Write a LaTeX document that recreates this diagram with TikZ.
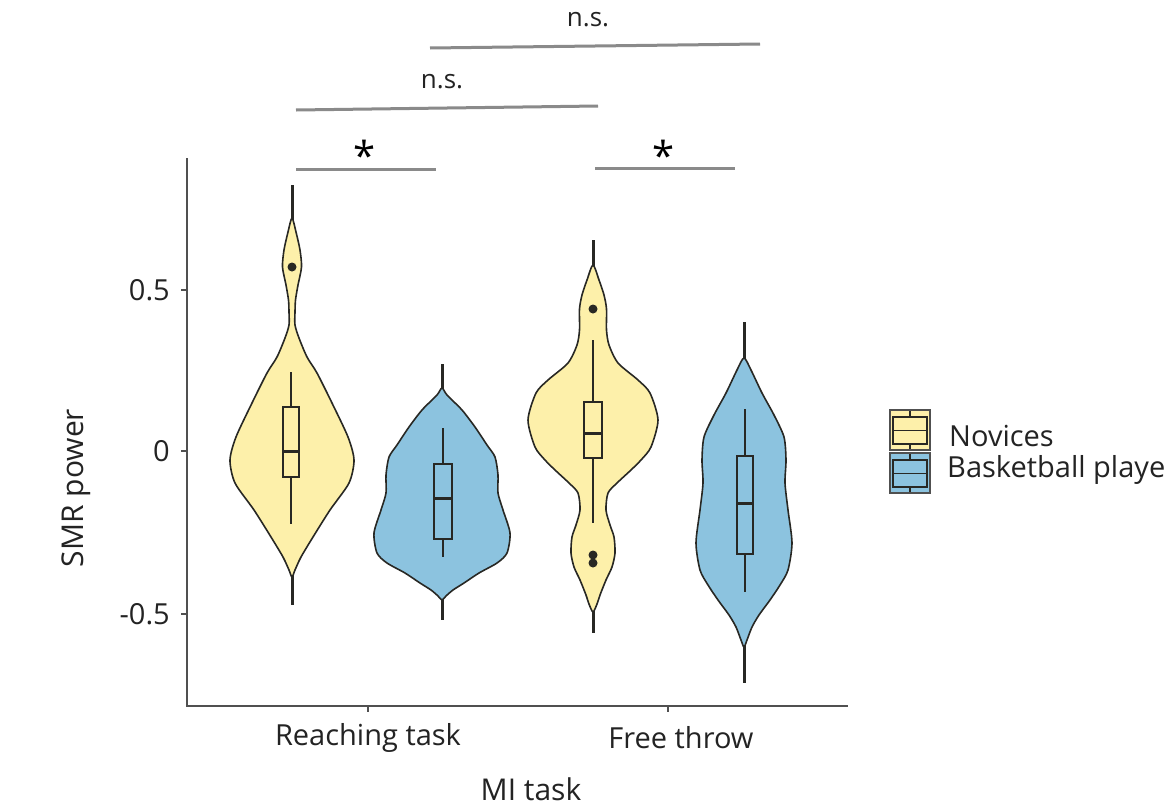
\documentclass[tikz,border=0pt]{standalone}
\usepackage{fontspec}
\setmainfont{Open Sans}
\definecolor{nov}{RGB}{253,240,170}
\definecolor{bas}{RGB}{140,195,223}
\definecolor{outl}{RGB}{40,40,36}
\definecolor{axisc}{RGB}{80,80,80}
\definecolor{barc}{RGB}{138,138,138}
\definecolor{txt}{RGB}{35,35,35}
\tikzset{
  violin/.style={draw=outl,line width=1.6pt,line join=round},
  vline/.style={draw=outl,line width=3pt},
  boxst/.style={draw=outl,line width=1.3pt},
  medst/.style={draw=outl,line width=3pt},
  whisk/.style={draw=outl,line width=1.3pt},
  sigbar/.style={draw=barc,line width=3pt},
  axisline/.style={draw=axisc,line width=1.6pt},
  ticklab/.style={text=txt,font=\fontsize{29}{32}\selectfont,inner sep=0pt},
  axtitle/.style={text=txt,font=\fontsize{30}{34}\selectfont,inner sep=0pt},
  nslab/.style={text=txt,font=\fontsize{26}{30}\selectfont,inner sep=0pt},
  starlab/.style={text=black,font=\fontsize{40}{40}\selectfont,inner sep=0pt},
}
\newcommand\violin[5]{%
  \gdef\vR{}\gdef\vL{}%
  \foreach \yy/\hh in {#5}{\xdef\vR{\vR(#1+\hh,\yy)}\xdef\vL{(#1-\hh,\yy)\vL}}%
  \edef\vtmp{\noexpand\draw[violin,fill=#2] plot[smooth cycle,tension=0.45] coordinates {(#1,#3)\vR(#1,#4)\vL};}%
  \vtmp}
\newcommand\boxp[7]{% cx, hw, q1(top), q3(bottom), median, wtop, wbot
  \draw[whisk] (#1,#6) -- (#1,#3);
  \draw[whisk] (#1,#4) -- (#1,#7);
  \draw[boxst] (#1-#2,#3) rectangle (#1+#2,#4);
  \draw[medst] (#1-#2,#5) -- (#1+#2,#5);
}
\begin{document}
\begin{tikzpicture}[x=1pt,y=-1pt]
\useasboundingbox (0,0) rectangle (1170,809);
\fill[white] (0,0) rectangle (1170,809);

% axes
\coordinate (ytop) at (187,158);
\coordinate (orig) at (187,706);
\coordinate (xend) at (848,706);
\draw[axisline] (ytop) -- (orig) -- (xend);
\foreach \v/\l/\n in {290/0.5/a,451/0/b,614/-0.5/c}{
  \draw[axisline] (181,\v) -- (187,\v);
  \node[ticklab,anchor=east] (yt\n) at (170,\v) {\l};
}
\draw[axisline] (368,706) -- (368,712);
\draw[axisline] (668,706) -- (668,712);
\node[ticklab] (xr) at (368,738) {Reaching task};
\node[ticklab] (xf) at (681,738) {Free throw};
\node[axtitle] (xtitle) at (531,789) {MI task};
\node[axtitle,rotate=90] (ytitle) at (76,488) {SMR power};

% violin: Novices, reaching
\draw[vline] (292,185) -- (292,222);
\draw[vline] (292,573) -- (292,605);
\violin{292}{nov}{218}{577}{232/4,250/8,267/9.5,285/6,300/3.5,312/3,325/3,338/7,357/15,373/25,403/40,437/56,460/62,483/57,510/38,537/21,557/9,570/3}
\boxp{291}{8}{407}{477}{451}{372}{524}
\fill[outl] (292,267) circle (4.5);

% violin: Basketball, reaching
\draw[vline] (442,364) -- (442,392);
\draw[vline] (442,596) -- (442,620);
\violin{442}{bas}{388}{600}{395/5,410/20,427/33,445/45,457/53,475/56,493/56,510/61,533/68,553/65,563/55,573/37,583/22,590/11,596/4}
\boxp{443}{9}{464}{539}{498}{428}{557}

% violin: Novices, free throw
\draw[vline] (593,240) -- (593,268);
\draw[vline] (593,608) -- (593,633);
\violin{593}{nov}{265}{612}{280/6,295/11,309/13.5,330/13.5,345/16,363/25,380/45,393/57,420/65,447/58,460/48,470/38,483/24,493/15,510/13,525/17,537/21,553/22,567/19,580/13,595/7,604/4}
\boxp{593}{9}{402}{458}{433}{340}{523}
\fill[outl] (593,309) circle (4.5);
\fill[outl] (593,555) circle (4.5);
\fill[outl] (593,563) circle (4.5);

% violin: Basketball, free throw
\draw[vline] (744,322) -- (744,362);
\draw[vline] (744,643) -- (744,683);
\violin{744}{bas}{358}{647}{370/7,393/18,415/30,437/40,460/42,483/41,510/44,543/48,570/44,585/36,600/26,615/15,627/8,640/3}
\boxp{745}{8}{456}{554}{503}{409}{592}

% significance bars
\coordinate (s1a) at (296,169); \coordinate (s1b) at (436,169);
\coordinate (s2a) at (595,168); \coordinate (s2b) at (735,168);
\coordinate (n1a) at (296,110); \coordinate (n1b) at (598,106);
\coordinate (n2a) at (430,48);  \coordinate (n2b) at (760,44);
\draw[sigbar] (s1a) -- (s1b);
\draw[sigbar] (s2a) -- (s2b);
\draw[sigbar] (n1a) -- (n1b);
\draw[sigbar] (n2a) -- (n2b);
\node[starlab,anchor=base] (st1) at (365,170) {*};
\node[starlab,anchor=base] (st2) at (664,170) {*};
\node[nslab] (ns1) at (442,82) {n.s.};
\node[nslab] (ns2) at (588,20) {n.s.};

% legend
\draw[draw=axisc,line width=1.4pt,fill=nov] (890,410) rectangle (930,450);
\draw[boxst] (893,417) rectangle (927,444);
\draw[boxst] (893,430.5) -- (927,430.5);
\draw[boxst] (910,411) -- (910,417);
\draw[boxst] (910,444) -- (910,449);
\draw[draw=axisc,line width=1.4pt,fill=bas] (890,453) rectangle (930,493);
\draw[boxst] (893,460) rectangle (927,487);
\draw[boxst] (893,473.5) -- (927,473.5);
\draw[boxst] (910,454) -- (910,460);
\draw[boxst] (910,487) -- (910,492);
\node[ticklab,anchor=west] (lg1) at (949,436) {Novices};
\node[ticklab,anchor=west] (lg2) at (947,470) {Basketball playe};
\end{tikzpicture}
\end{document}
